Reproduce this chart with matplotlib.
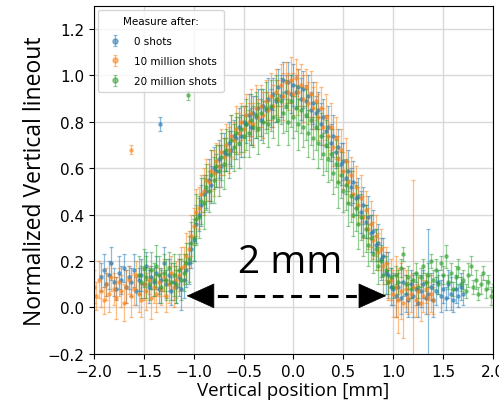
import matplotlib.pyplot as plt
from matplotlib.patches import ArrowStyle

# sample positions along the vertical lineout [mm]
x_pos = [
    -2.000, -1.975, -1.950, -1.925, -1.900, -1.875, -1.850, -1.825, -1.800, -1.775,
    -1.750, -1.725, -1.700, -1.675, -1.650, -1.625, -1.600, -1.575, -1.550, -1.525,
    -1.500, -1.475, -1.450, -1.425, -1.400, -1.375, -1.350, -1.325, -1.300, -1.275,
    -1.250, -1.225, -1.200, -1.175, -1.150, -1.125, -1.100, -1.075, -1.050, -1.025,
    -1.000, -0.975, -0.950, -0.925, -0.900, -0.875, -0.850, -0.825, -0.800, -0.775,
    -0.750, -0.725, -0.700, -0.675, -0.650, -0.625, -0.600, -0.575, -0.550, -0.525,
    -0.500, -0.475, -0.450, -0.425, -0.400, -0.375, -0.350, -0.325, -0.300, -0.275,
    -0.250, -0.225, -0.200, -0.175, -0.150, -0.125, -0.100, -0.075, -0.050, -0.025,
    0.000, 0.025, 0.050, 0.075, 0.100, 0.125, 0.150, 0.175, 0.200, 0.225,
    0.250, 0.275, 0.300, 0.325, 0.350, 0.375, 0.400, 0.425, 0.450, 0.475,
    0.500, 0.525, 0.550, 0.575, 0.600, 0.625, 0.650, 0.675, 0.700, 0.725,
    0.750, 0.775, 0.800, 0.825, 0.850, 0.875, 0.900, 0.925, 0.950, 0.975,
    1.000, 1.025, 1.050, 1.075, 1.100, 1.125, 1.150, 1.175, 1.200, 1.225,
    1.250, 1.275, 1.300, 1.325, 1.350, 1.375, 1.400, 1.425, 1.450, 1.475,
    1.500, 1.525, 1.550, 1.575, 1.600, 1.625, 1.650, 1.675, 1.700, 1.725,
    1.750, 1.775, 1.800, 1.825, 1.850, 1.875, 1.900, 1.925, 1.950, 1.975,
    2.000,
]

# 0 shots, measured on x_pos[3:149]
blue_y = [
    0.13, 0.16, 0.10, 0.14, 0.19, 0.11, 0.08, 0.15, 0.12, 0.17,
    0.09, 0.13, 0.11, 0.16, 0.07, 0.12, 0.14, 0.10, 0.18, 0.09,
    0.13, 0.11, 0.15, 0.08, 0.12, 0.19, 0.10, 0.14, 0.07, 0.11,
    0.09, 0.13, 0.08, 0.12, 0.16, 0.19, 0.25, 0.29, 0.36, 0.40,
    0.44, 0.49, 0.50, 0.55, 0.53, 0.60, 0.59, 0.64, 0.61, 0.67,
    0.66, 0.71, 0.68, 0.74, 0.73, 0.78, 0.74, 0.80, 0.79, 0.83,
    0.78, 0.84, 0.82, 0.86, 0.81, 0.87, 0.85, 0.90, 0.86, 0.92,
    0.89, 0.95, 0.91, 0.98, 0.93, 0.97, 0.92, 0.96, 0.93, 0.95,
    0.90, 0.94, 0.89, 0.91, 0.85, 0.88, 0.84, 0.85, 0.79, 0.82,
    0.76, 0.78, 0.71, 0.74, 0.67, 0.69, 0.62, 0.63, 0.56, 0.59,
    0.52, 0.54, 0.47, 0.48, 0.41, 0.44, 0.37, 0.39, 0.32, 0.33,
    0.27, 0.28, 0.21, 0.22, 0.15, 0.14, 0.09, 0.08, 0.05, 0.09,
    0.04, 0.11, 0.06, 0.03, 0.10, 0.05, 0.08, 0.02, 0.07, 0.10,
    0.04, 0.06, 0.09, 0.03, 0.07, 0.11, 0.05, 0.08, 0.04, 0.10,
    0.06, 0.03, 0.08, 0.05, 0.09, 0.06,
]
blue_err = [
    0.06, 0.07, 0.05, 0.06, 0.07, 0.06, 0.05, 0.07, 0.06, 0.06,
    0.07, 0.05, 0.06, 0.07, 0.06, 0.05, 0.07, 0.06, 0.06, 0.07,
    0.05, 0.06, 0.07, 0.06, 0.05, 0.07, 0.06, 0.07, 0.06, 0.08,
    0.07, 0.08, 0.09, 0.08, 0.07, 0.09, 0.08, 0.09, 0.08, 0.07,
    0.09, 0.08, 0.07, 0.09, 0.08, 0.09, 0.07, 0.08, 0.09, 0.08,
    0.07, 0.09, 0.08, 0.07, 0.09, 0.08, 0.09, 0.07, 0.08, 0.09,
    0.08, 0.07, 0.09, 0.08, 0.09, 0.07, 0.08, 0.09, 0.08, 0.07,
    0.09, 0.08, 0.09, 0.08, 0.07, 0.09, 0.08, 0.09, 0.07, 0.08,
    0.09, 0.08, 0.07, 0.09, 0.08, 0.09, 0.07, 0.08, 0.09, 0.08,
    0.07, 0.09, 0.08, 0.09, 0.07, 0.08, 0.09, 0.08, 0.07, 0.09,
    0.08, 0.09, 0.07, 0.08, 0.09, 0.08, 0.07, 0.09, 0.08, 0.09,
    0.07, 0.08, 0.09, 0.08, 0.09, 0.10, 0.08, 0.07, 0.09, 0.06,
    0.07, 0.06, 0.08, 0.07, 0.06, 0.09, 0.07, 0.06, 0.07, 0.06,
    0.07, 0.28, 0.06, 0.07, 0.06, 0.05, 0.07, 0.06, 0.05, 0.06,
    0.07, 0.05, 0.06, 0.05, 0.06, 0.05,
]

# 10 million shots, measured on x_pos[0:137]
orange_y = [
    0.09, 0.05, 0.12, 0.07, 0.03, 0.10, 0.06, 0.13, 0.08, 0.04,
    0.11, 0.07, 0.02, 0.09, 0.12, 0.05, 0.08, 0.14, 0.06, 0.03,
    0.10, 0.07, 0.12, 0.04, 0.09, 0.06, 0.11, 0.08, 0.13, 0.05,
    0.10, 0.15, 0.09, 0.12, 0.14, 0.17, 0.18, 0.22, 0.25, 0.31,
    0.35, 0.41, 0.43, 0.49, 0.50, 0.55, 0.54, 0.59, 0.58, 0.63,
    0.61, 0.67, 0.65, 0.70, 0.68, 0.74, 0.72, 0.77, 0.75, 0.80,
    0.77, 0.83, 0.80, 0.84, 0.79, 0.86, 0.82, 0.87, 0.83, 0.89,
    0.85, 0.91, 0.87, 0.93, 0.90, 0.96, 0.91, 0.97, 0.93, 0.98,
    0.92, 0.99, 0.93, 0.96, 0.90, 0.95, 0.88, 0.92, 0.86, 0.89,
    0.82, 0.86, 0.78, 0.82, 0.74, 0.78, 0.69, 0.73, 0.64, 0.68,
    0.59, 0.63, 0.54, 0.57, 0.49, 0.52, 0.44, 0.47, 0.39, 0.42,
    0.34, 0.36, 0.29, 0.31, 0.24, 0.25, 0.18, 0.19, 0.11, 0.12,
    0.06, 0.09, 0.03, 0.07, 0.02, 0.08, 0.04, 0.06, 0.09, 0.03,
    0.07, 0.02, 0.05, 0.08, 0.04, 0.06, 0.03,
]
orange_err = [
    0.07, 0.06, 0.08, 0.07, 0.06, 0.07, 0.08, 0.06, 0.07, 0.09,
    0.06, 0.07, 0.08, 0.07, 0.06, 0.09, 0.07, 0.06, 0.08, 0.07,
    0.07, 0.08, 0.06, 0.09, 0.07, 0.08, 0.06, 0.07, 0.08, 0.07,
    0.08, 0.07, 0.09, 0.08, 0.07, 0.09, 0.08, 0.10, 0.08, 0.09,
    0.08, 0.10, 0.09, 0.08, 0.10, 0.09, 0.08, 0.09, 0.10, 0.08,
    0.09, 0.10, 0.08, 0.09, 0.10, 0.09, 0.08, 0.10, 0.09, 0.08,
    0.10, 0.09, 0.08, 0.10, 0.09, 0.10, 0.08, 0.09, 0.10, 0.09,
    0.08, 0.10, 0.09, 0.10, 0.08, 0.09, 0.10, 0.09, 0.08, 0.10,
    0.09, 0.08, 0.10, 0.09, 0.10, 0.08, 0.09, 0.10, 0.09, 0.08,
    0.10, 0.09, 0.08, 0.10, 0.09, 0.10, 0.08, 0.09, 0.10, 0.09,
    0.08, 0.10, 0.09, 0.08, 0.10, 0.09, 0.08, 0.10, 0.09, 0.08,
    0.09, 0.10, 0.08, 0.09, 0.08, 0.09, 0.08, 0.07, 0.08, 0.09,
    0.10, 0.13, 0.14, 0.12, 0.15, 0.08, 0.07, 0.08, 0.46, 0.07,
    0.06, 0.08, 0.07, 0.06, 0.07, 0.08, 0.06,
]

# 20 million shots, measured on x_pos[18:161]
green_y = [
    0.14, 0.11, 0.17, 0.13, 0.10, 0.16, 0.12, 0.18, 0.14, 0.09,
    0.15, 0.12, 0.17, 0.11, 0.14, 0.10, 0.16, 0.12, 0.15, 0.19,
    0.21, 0.28, 0.30, 0.38, 0.39, 0.46, 0.45, 0.52, 0.50, 0.57,
    0.55, 0.61, 0.59, 0.65, 0.62, 0.68, 0.66, 0.72, 0.69, 0.75,
    0.71, 0.77, 0.74, 0.79, 0.75, 0.81, 0.78, 0.83, 0.77, 0.84,
    0.80, 0.86, 0.79, 0.87, 0.82, 0.90, 0.81, 0.89, 0.84, 0.87,
    0.80, 0.89, 0.82, 0.86, 0.79, 0.85, 0.78, 0.83, 0.75, 0.81,
    0.73, 0.78, 0.71, 0.74, 0.66, 0.70, 0.64, 0.66, 0.58, 0.62,
    0.54, 0.57, 0.50, 0.53, 0.45, 0.48, 0.40, 0.43, 0.36, 0.39,
    0.31, 0.34, 0.27, 0.30, 0.23, 0.25, 0.18, 0.20, 0.14, 0.16,
    0.11, 0.13, 0.09, 0.14, 0.11, 0.17, 0.23, 0.10, 0.13, 0.08,
    0.12, 0.15, 0.09, 0.13, 0.18, 0.11, 0.14, 0.20, 0.12, 0.16,
    0.10, 0.19, 0.14, 0.22, 0.11, 0.15, 0.08, 0.13, 0.17, 0.10,
    0.12, 0.07, 0.14, 0.18, 0.09, 0.12, 0.06, 0.10, 0.15, 0.08,
    0.11, 0.05, 0.07,
]
green_err = [
    0.08, 0.07, 0.08, 0.09, 0.07, 0.08, 0.07, 0.09, 0.08, 0.07,
    0.08, 0.09, 0.07, 0.08, 0.09, 0.08, 0.07, 0.09, 0.08, 0.09,
    0.10, 0.09, 0.10, 0.11, 0.09, 0.10, 0.11, 0.10, 0.09, 0.11,
    0.10, 0.09, 0.11, 0.10, 0.11, 0.09, 0.10, 0.11, 0.10, 0.09,
    0.11, 0.10, 0.09, 0.11, 0.10, 0.11, 0.09, 0.10, 0.11, 0.10,
    0.09, 0.11, 0.10, 0.11, 0.09, 0.10, 0.11, 0.10, 0.09, 0.11,
    0.10, 0.11, 0.09, 0.10, 0.11, 0.10, 0.09, 0.11, 0.10, 0.11,
    0.09, 0.10, 0.11, 0.10, 0.09, 0.11, 0.10, 0.11, 0.09, 0.10,
    0.11, 0.10, 0.09, 0.11, 0.10, 0.11, 0.09, 0.10, 0.11, 0.10,
    0.09, 0.10, 0.09, 0.10, 0.08, 0.09, 0.08, 0.07, 0.08, 0.06,
    0.05, 0.04, 0.05, 0.04, 0.05, 0.04, 0.03, 0.04, 0.05, 0.04,
    0.03, 0.04, 0.05, 0.04, 0.03, 0.04, 0.05, 0.03, 0.04, 0.05,
    0.04, 0.03, 0.04, 0.05, 0.03, 0.04, 0.03, 0.05, 0.04, 0.03,
    0.04, 0.03, 0.05, 0.04, 0.03, 0.04, 0.03, 0.04, 0.03, 0.04,
    0.03, 0.04, 0.03,
]

# isolated hot pixels (x, y, err)
blue_out = ([-1.34], [0.79], [0.03])
orange_out = ([-1.63], [0.68], [0.02])
green_out = ([-1.06], [0.915], [0.02])

labels = ["0 shots", "10 million shots", "20 million shots"]
colors = ["tab:blue", "tab:orange", "tab:green"]

fig = plt.figure(figsize=(4.99, 4.06), dpi=100)
ax = fig.add_axes([0.188, 0.126, 0.800, 0.857])

series = [
    (x_pos[3:149], blue_y, blue_err, blue_out),
    (x_pos[0:137], orange_y, orange_err, orange_out),
    (x_pos[18:161], green_y, green_err, green_out),
]
for (xs, ys, es, out), lab, col in zip(series, labels, colors):
    ax.errorbar(xs + out[0], ys + out[1], yerr=es + out[2], fmt="o",
                ms=2.3, color=col, ecolor=col, elinewidth=0.9,
                capsize=1.5, capthick=0.9, alpha=0.5, label=lab)

# 2 mm width marker
ax.plot([-0.95, 0.82], [0.05, 0.05], color="black", lw=2.2,
        linestyle=(0, (3.5, 2.5)))
head = ArrowStyle("-|>", head_length=1.0, head_width=0.45)
ax.annotate("", xy=(-1.07, 0.05), xytext=(-0.85, 0.05),
            arrowprops=dict(arrowstyle=head, mutation_scale=19,
                            color="black", lw=0.5, shrinkA=0, shrinkB=0))
ax.annotate("", xy=(0.93, 0.05), xytext=(0.72, 0.05),
            arrowprops=dict(arrowstyle=head, mutation_scale=19,
                            color="black", lw=0.5, shrinkA=0, shrinkB=0))
ax.text(-0.03, 0.195, "2 mm", fontsize=28, family="Open Sans",
        ha="center", va="center")

ax.set_xlim(-2.0, 2.0)
ax.set_ylim(-0.2, 1.3)
ax.set_xticks([-2.0, -1.5, -1.0, -0.5, 0.0, 0.5, 1.0, 1.5, 2.0])
ax.set_yticks([-0.2, 0.0, 0.2, 0.4, 0.6, 0.8, 1.0, 1.2])
ax.tick_params(labelsize=11)
ax.grid(True, color="#d9d9d9", lw=1.0)
ax.set_axisbelow(True)
ax.set_xlabel("Vertical position [mm]", fontsize=13.5, family="Open Sans",
              labelpad=2)
ax.set_ylabel("Normalized Vertical lineout", fontsize=16.5,
              family="Open Sans", labelpad=0)

ax.legend(title="Measure after:", loc="upper left", fontsize=7.5,
          title_fontsize=7.5, markerscale=1.6, borderaxespad=0.4,
          handletextpad=0.9, labelspacing=0.95, borderpad=0.6)

fig.savefig("out.png", dpi=100)
